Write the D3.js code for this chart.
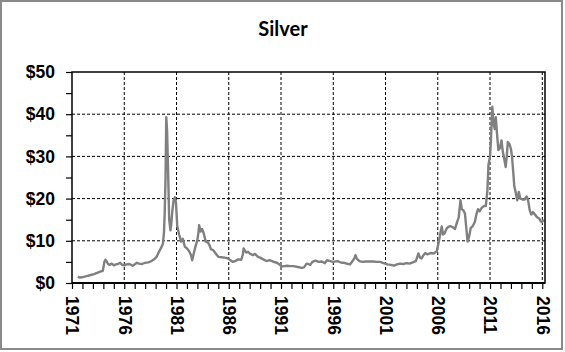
<!DOCTYPE html>
<html>
<head>
<meta charset="utf-8">
<script src="https://cdn.jsdelivr.net/npm/d3@7"></script>
<style>
  body { margin: 0; background: #fff; }
  svg { display: block; font-family: Lato, "Open Sans", sans-serif; }
  .grid line { stroke: #000; stroke-dasharray: 3,2; stroke-width: 1; }
</style>
</head>
<body>
<div id="wrapper"></div>
<script>
// DATA (decimal years / USD per ounce)
const dates = [
  1971.55, 1971.75, 1971.95, 1972.2, 1972.5, 1972.8, 1973.1, 1973.4, 1973.7, 1973.95,
  1974.1, 1974.2, 1974.3, 1974.45, 1974.6, 1974.8, 1975.0, 1975.2, 1975.4, 1975.6,
  1975.8, 1976.0, 1976.2, 1976.5, 1976.8, 1977.0, 1977.2, 1977.4, 1977.7, 1978.0,
  1978.3, 1978.6, 1978.9, 1979.1, 1979.3, 1979.5, 1979.7, 1979.8, 1979.87, 1979.95,
  1980.02, 1980.1, 1980.18, 1980.3, 1980.42, 1980.5, 1980.6, 1980.72, 1980.85, 1980.95,
  1981.07, 1981.25, 1981.45, 1981.6, 1981.8, 1982.0, 1982.2, 1982.4, 1982.5, 1982.65,
  1982.8, 1983.0, 1983.1, 1983.17, 1983.3, 1983.45, 1983.6, 1983.8, 1984.0, 1984.15,
  1984.3, 1984.5, 1984.75, 1985.0, 1985.3, 1985.6, 1985.95, 1986.2, 1986.4, 1986.7,
  1986.9, 1987.2, 1987.35, 1987.42, 1987.55, 1987.7, 1987.85, 1988.0, 1988.3, 1988.5,
  1988.8, 1989.0, 1989.3, 1989.6, 1989.9, 1990.2, 1990.6, 1990.9, 1991.05, 1991.3,
  1991.6, 1991.85, 1992.2, 1992.6, 1993.0, 1993.2, 1993.45, 1993.6, 1993.8, 1994.0,
  1994.3, 1994.6, 1994.9, 1995.2, 1995.4, 1995.7, 1996.0, 1996.4, 1996.8, 1997.0,
  1997.3, 1997.6, 1997.85, 1998.05, 1998.12, 1998.25, 1998.5, 1998.8, 1999.1, 1999.5,
  1999.8, 2000.2, 2000.5, 2000.8, 2001.2, 2001.5, 2001.8, 2002.1, 2002.4, 2002.7,
  2003.0, 2003.3, 2003.6, 2003.9, 2004.15, 2004.3, 2004.45, 2004.6, 2004.8, 2005.0,
  2005.3, 2005.6, 2005.9, 2006.1, 2006.3, 2006.38, 2006.5, 2006.65, 2006.85, 2007.0,
  2007.2, 2007.45, 2007.65, 2007.85, 2008.0, 2008.17, 2008.3, 2008.45, 2008.6, 2008.75,
  2008.85, 2009.0, 2009.15, 2009.35, 2009.55, 2009.7, 2009.85, 2010.0, 2010.2, 2010.4,
  2010.6, 2010.75, 2010.85, 2011.0, 2011.1, 2011.22, 2011.32, 2011.45, 2011.55, 2011.68,
  2011.8, 2011.95, 2012.1, 2012.2, 2012.35, 2012.5, 2012.6, 2012.7, 2012.85, 2013.0,
  2013.1, 2013.2, 2013.32, 2013.45, 2013.6, 2013.75, 2013.9, 2014.1, 2014.3, 2014.5,
  2014.65, 2014.8, 2014.95, 2015.1, 2015.3, 2015.5, 2015.7, 2015.85, 2016.0, 2016.15
]
const prices = [
  1.5, 1.3, 1.35, 1.5, 1.7, 1.9, 2.1, 2.4, 2.7, 2.9,
  5.0, 5.5, 5.2, 4.5, 4.3, 4.6, 4.2, 4.4, 4.5, 4.8,
  4.3, 4.2, 4.4, 4.5, 4.1, 4.4, 4.8, 4.6, 4.5, 4.8,
  4.9, 5.2, 5.7, 6.2, 7.3, 8.2, 9.3, 12, 16.5, 25,
  39.3, 36, 28, 15, 12.5, 14, 17, 19.6, 20.3, 19,
  13.5, 11.5, 9.8, 10.5, 8.6, 8.2, 7.6, 6.5, 5.4, 7,
  8.5, 10.2, 12, 13.7, 12.2, 12.8, 11.8, 9.8, 9.6, 9.0,
  8.0, 7.8, 7.0, 6.2, 6.1, 6.0, 5.8, 5.3, 5.0, 5.3,
  5.6, 5.5, 6.8, 8.2, 7.6, 7.2, 7.4, 7.0, 6.6, 6.9,
  6.2, 6.0, 5.6, 5.2, 5.4, 5.1, 4.8, 4.3, 3.9, 4.0,
  4.1, 4.0, 4.0, 3.8, 3.6, 3.7, 4.6, 4.5, 4.3, 5.0,
  5.3, 5.0, 5.1, 4.7, 5.4, 5.2, 5.0, 5.2, 4.8, 4.8,
  4.6, 4.4, 5.2, 6.0, 6.6, 5.8, 5.2, 5.0, 5.1, 5.1,
  5.1, 5.0, 5.0, 4.7, 4.4, 4.3, 4.1, 4.4, 4.6, 4.5,
  4.7, 4.6, 4.9, 5.2, 7.0, 6.0, 5.8, 6.5, 7.1, 6.8,
  7.1, 7.0, 7.5, 9.8, 12.5, 13.4, 11.5, 11.8, 12.9, 13.3,
  13.5, 13.2, 12.8, 14.5, 15.5, 19.6, 17.5, 17.2, 16.5, 12.5,
  9.8, 11, 13, 13.5, 14.5, 16.3, 17.5, 17.0, 17.8, 18.2,
  18.3, 22, 28, 30, 34.6, 41.8, 38, 36.5, 39.3, 35,
  31.5, 32, 33.8, 31.5, 29.5, 27.5, 30, 33.4, 33, 31.8,
  30, 27, 23, 21.5, 19.6, 21.6, 20, 19.8, 19.8, 20.5,
  19.5, 17.2, 16.2, 16.8, 16.2, 15.6, 15.3, 14.6, 14.5, 15.0
]
const yTicks = [0, 10, 20, 30, 40, 50]
const yearLabels = [1971, 1976, 1981, 1986, 1991, 1996, 2001, 2006, 2011, 2016]
const title = "Silver"

const series = dates.map((d, i) => ({ date: d, price: prices[i] }))

const width = 565
const height = 352
const plot = { left: 72, right: 545, top: 72, bottom: 283 }

const svg = d3.select('#wrapper')
  .append('svg')
  .attr('width', width)
  .attr('height', height)

// outer chart border
svg.append('rect')
  .attr('x', 1).attr('y', 1)
  .attr('width', 561).attr('height', 348)
  .attr('fill', '#fff')
  .attr('stroke', '#8a8a8a')
  .attr('stroke-width', 2)

const xScale = d3.scaleLinear()
  .domain([1971, 2016.26])
  .range([plot.left, plot.right])

const yScale = d3.scaleLinear()
  .domain([0, 50])
  .range([plot.bottom, plot.top])

// gridlines
const grid = svg.append('g').attr('class', 'grid')
grid.selectAll('.hgrid')
  .data(yTicks.filter(d => d > 0 && d < 50))
  .enter().append('line')
  .attr('x1', plot.left).attr('x2', plot.right)
  .attr('y1', d => yScale(d)).attr('y2', d => yScale(d))
grid.selectAll('.vgrid')
  .data(yearLabels.slice(1))
  .enter().append('line')
  .attr('x1', d => xScale(d)).attr('x2', d => xScale(d))
  .attr('y1', plot.top).attr('y2', plot.bottom)

// price line
const lineGenerator = d3.line()
  .x(d => xScale(d.date))
  .y(d => yScale(d.price))

svg.append('path')
  .datum(series)
  .attr('d', lineGenerator)
  .attr('fill', 'none')
  .attr('stroke', '#808080')
  .attr('stroke-width', 2.4)
  .attr('stroke-linejoin', 'round')

// plot frame
svg.append('rect')
  .attr('x', plot.left).attr('y', plot.top)
  .attr('width', plot.right - plot.left)
  .attr('height', plot.bottom - plot.top)
  .attr('fill', 'none')
  .attr('stroke', '#000')
  .attr('stroke-width', 1.5)

// y axis
const yAxis = d3.axisLeft(yScale)
  .tickValues(d3.range(0, 51, 5))
  .tickSize(6)
  .tickFormat(d => d % 10 === 0 ? `$${d}` : '')

const yAxisGroup = svg.append('g')
  .attr('transform', `translate(${plot.left},0)`)
  .call(yAxis)
yAxisGroup.select('.domain').remove()
yAxisGroup.selectAll('line').attr('stroke', '#000').attr('stroke-width', 1.2)
yAxisGroup.selectAll('text')
  .attr('x', -17)
  .attr('fill', '#000')
  .style('font-size', '17.5px')
  .style('font-weight', 'bold')

// x axis
const xAxis = d3.axisBottom(xScale)
  .tickValues(d3.range(1971, 2017, 1))
  .tickSize(6)
  .tickFormat(d => yearLabels.includes(d) ? d : '')

const xAxisGroup = svg.append('g')
  .attr('transform', `translate(0,${plot.bottom})`)
  .call(xAxis)
xAxisGroup.select('.domain')
  .attr('stroke', '#000')
  .attr('stroke-width', 2.2)
  .attr('d', `M${plot.left},0H${plot.right}`)
xAxisGroup.selectAll('line').attr('stroke', '#000').attr('stroke-width', 1.2)
xAxisGroup.selectAll('text')
  .attr('transform', 'rotate(90)')
  .attr('x', 13)
  .attr('y', 0)
  .attr('dy', '0.35em')
  .attr('text-anchor', 'start')
  .attr('fill', '#000')
  .style('font-size', '17.5px')
  .style('font-weight', 'bold')

// title
svg.append('text')
  .attr('x', 283)
  .attr('y', 36)
  .attr('text-anchor', 'middle')
  .style('font-size', '20px')
  .style('font-weight', 'bold')
  .text(title)
</script>
</body>
</html>
